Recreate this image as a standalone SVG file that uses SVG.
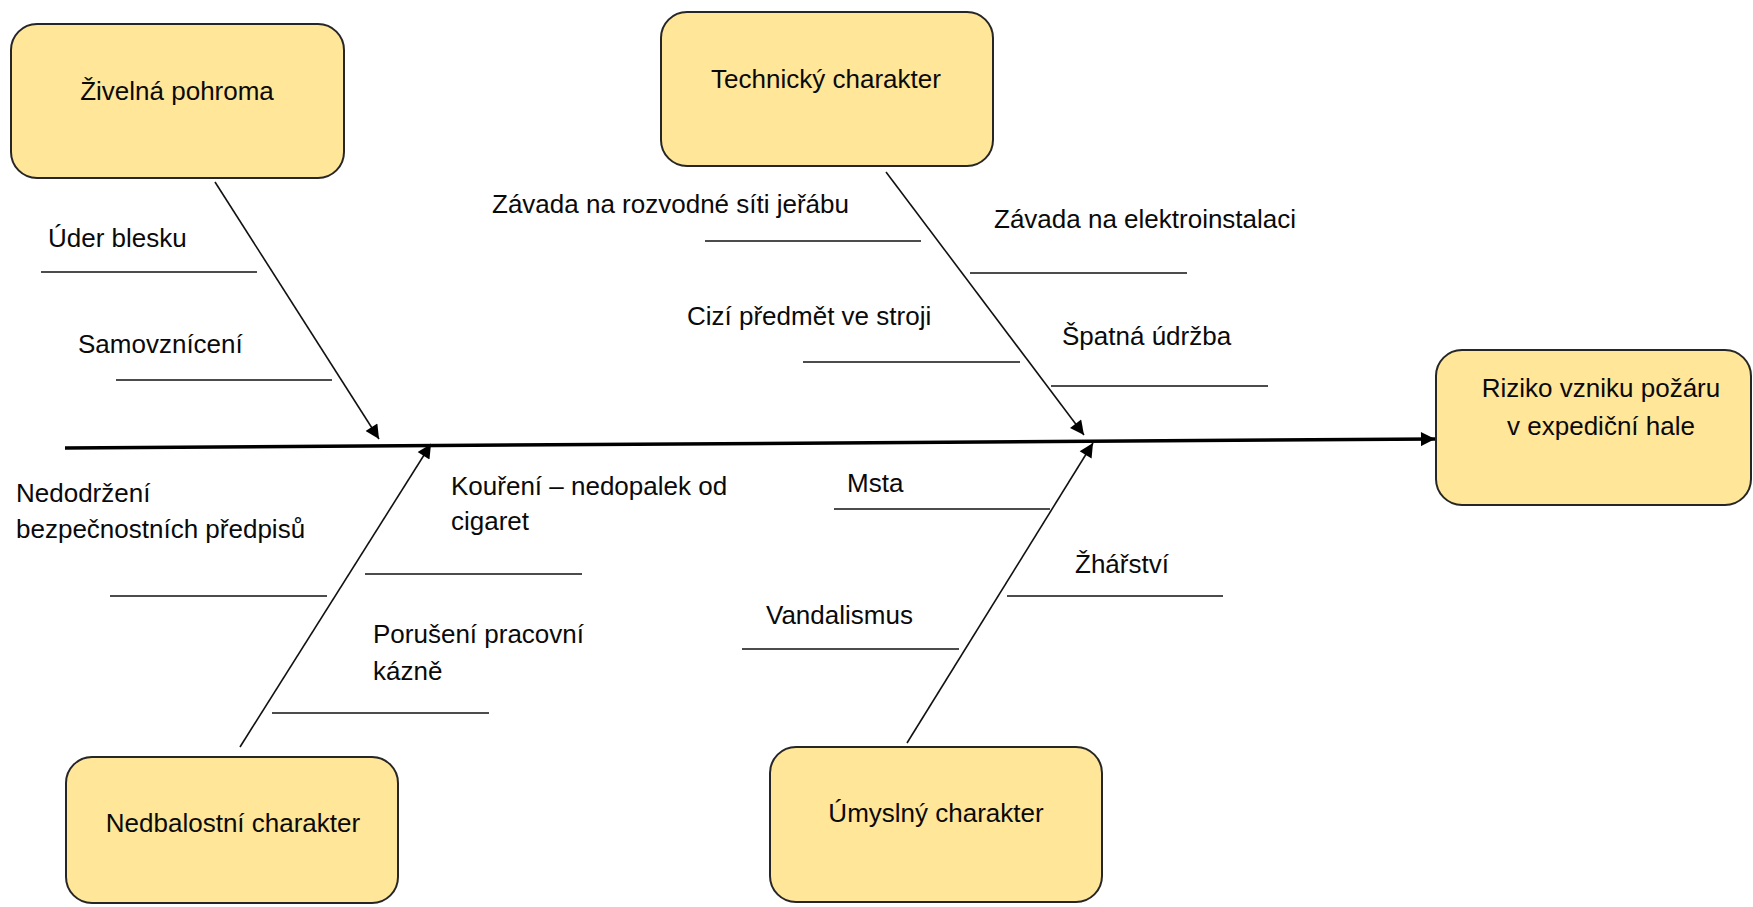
<svg xmlns="http://www.w3.org/2000/svg" width="1753" height="907" viewBox="0 0 1753 907">
<style>
.box{fill:#FFE699;stroke:#262626;stroke-width:2}
.t{font-family:"Liberation Sans",Arial,sans-serif;font-size:26px;fill:#0a0a0a}
.c{text-anchor:middle}
.ul{stroke:#111;stroke-width:1.6;fill:none}
.br{stroke:#111;stroke-width:1.6;fill:none;marker-end:url(#ahs)}
.sp{stroke:#000;stroke-width:3.5;fill:none;marker-end:url(#ahs)}
</style>
<defs>
<marker id="ahs" viewBox="0 0 10 10" refX="10" refY="5" markerWidth="16" markerHeight="14" markerUnits="userSpaceOnUse" orient="auto"><path d="M0,0 L10,5 L0,10 z" fill="#000"/></marker>
</defs>
<rect width="1753" height="907" fill="#fff"/>
<g id="connectors">
<path class="sp" d="M65,448 L1435,439"/>
<path class="br" d="M215,182 L379,439"/>
<path class="br" d="M886,172 L1084,435"/>
<path class="br" d="M240,747 L431,444"/>
<path class="br" d="M907,743 L1093,443"/>
<line class="ul" x1="41" y1="272" x2="257" y2="272"/>
<line class="ul" x1="116" y1="380" x2="332" y2="380"/>
<line class="ul" x1="705" y1="241" x2="921" y2="241"/>
<line class="ul" x1="970" y1="273" x2="1187" y2="273"/>
<line class="ul" x1="803" y1="362" x2="1020" y2="362"/>
<line class="ul" x1="1051" y1="386" x2="1268" y2="386"/>
<line class="ul" x1="110" y1="596" x2="327" y2="596"/>
<line class="ul" x1="365" y1="574" x2="582" y2="574"/>
<line class="ul" x1="272" y1="713" x2="489" y2="713"/>
<line class="ul" x1="834" y1="509" x2="1050" y2="509"/>
<line class="ul" x1="1007" y1="596" x2="1223" y2="596"/>
<line class="ul" x1="742" y1="649" x2="959" y2="649"/>
</g>
<g id="labels">
<text class="t" x="48" y="247">Úder blesku</text>
<text class="t" x="78" y="353">Samovznícení</text>
<text class="t" x="492" y="213">Závada na rozvodné síti jeřábu</text>
<text class="t" x="994" y="228">Závada na elektroinstalaci</text>
<text class="t" x="687" y="325">Cizí předmět ve stroji</text>
<text class="t" x="1062" y="345">Špatná údržba</text>
<text class="t" x="16" y="502">Nedodržení</text>
<text class="t" x="16" y="538">bezpečnostních předpisů</text>
<text class="t" x="451" y="495">Kouření – nedopalek od</text>
<text class="t" x="451" y="530">cigaret</text>
<text class="t" x="373" y="643">Porušení pracovní</text>
<text class="t" x="373" y="680">kázně</text>
<text class="t" x="847" y="492">Msta</text>
<text class="t" x="1075" y="573">Žhářství</text>
<text class="t" x="766" y="624">Vandalismus</text>
</g>
<g id="zivelna">
<rect class="box" x="11" y="24" width="333" height="154" rx="26"/>
<text class="t c" x="177" y="100">Živelná pohroma</text>
</g>
<g id="technicky">
<rect class="box" x="661" y="12" width="332" height="154" rx="26"/>
<text class="t c" x="826" y="88">Technický charakter</text>
</g>
<g id="riziko">
<rect class="box" x="1436" y="350" width="315" height="155" rx="26"/>
<text class="t c" x="1601" y="397">Riziko vzniku požáru</text>
<text class="t c" x="1601" y="435">v expediční hale</text>
</g>
<g id="nedbalostni">
<rect class="box" x="66" y="757" width="332" height="146" rx="26"/>
<text class="t c" x="233" y="832">Nedbalostní charakter</text>
</g>
<g id="umyslny">
<rect class="box" x="770" y="747" width="332" height="155" rx="26"/>
<text class="t c" x="936" y="822">Úmyslný charakter</text>
</g>
</svg>
